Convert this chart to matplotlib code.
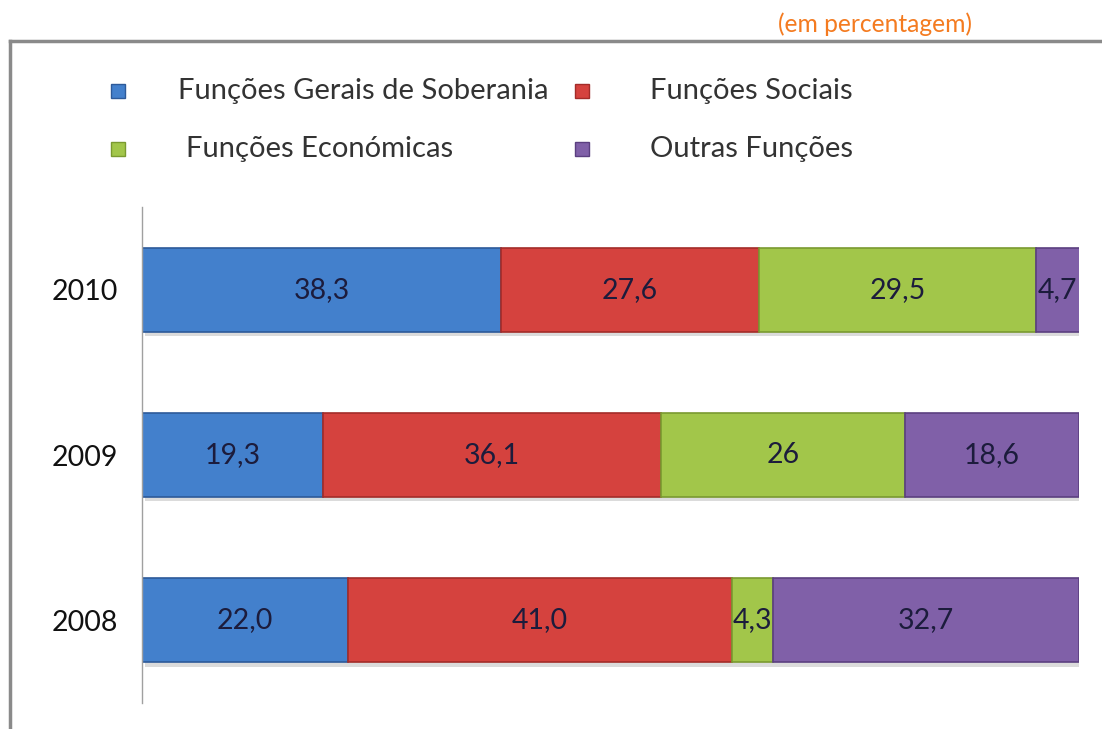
import matplotlib
matplotlib.use("Agg")
import matplotlib.pyplot as plt
import matplotlib.patheffects as pe
from matplotlib.lines import Line2D
from matplotlib.patches import Rectangle

years = ["2008", "2009", "2010"]
series_names = ["Funções Gerais de Soberania", "Funções Sociais",
                "Funções Económicas", "Outras Funções"]
gerais = [22.0, 19.3, 38.3]
sociais = [41.0, 36.1, 27.6]
economicas = [4.3, 26.0, 29.5]
outras = [32.7, 18.6, 4.7]
labels = {
    "gerais": ["22,0", "19,3", "38,3"],
    "sociais": ["41,0", "36,1", "27,6"],
    "economicas": ["4,3", "26", "29,5"],
    "outras": ["32,7", "18,6", "4,7"],
}
unit_note = "(em percentagem)"

colors = ["#4380cc", "#d5423e", "#a2c64a", "#8060a8"]
edges = ["#2d5a99", "#a32c29", "#7a9a30", "#5b3f80"]

plt.rcParams['font.family'] = ['Lato', 'DejaVu Sans']

fig = plt.figure(figsize=(11.02, 7.29), dpi=100)
W, H = 1102, 729

def fx(x):
    return x / W

def fy(y):
    return 1 - y / H

# outer border
fig.add_artist(Line2D([fx(10), fx(1102)], [fy(41), fy(41)], color="#8a8a8a", lw=2.5))
fig.add_artist(Line2D([fx(10), fx(10)], [fy(41), fy(729)], color="#8a8a8a", lw=2.5))

fig.text(fx(875), fy(24), unit_note, color="#f47b20", fontsize=17.7, ha="center", va="center")

ax = fig.add_axes([fx(142), fy(703), fx(1079) - fx(142), fy(207) - fy(703)])
ypos = list(range(len(years)))
data = [gerais, sociais, economicas, outras]
keys = ["gerais", "sociais", "economicas", "outras"]
left = [0.0] * len(years)
shadow = [pe.SimplePatchShadow(offset=(2, -3), shadow_rgbFace="#999999", alpha=0.35), pe.Normal()]
for vals, key, c, ec in zip(data, keys, colors, edges):
    bars = ax.barh(ypos, vals, left=left, height=0.51, color=c, edgecolor=ec, linewidth=1.2)
    for b in bars:
        b.set_path_effects(shadow)
    for i, (v, l) in enumerate(zip(vals, left)):
        ax.text(l + v / 2, i, labels[key][i], ha="center", va="center",
                fontsize=20.5, color="#1c1c3c")
    left = [a + b for a, b in zip(left, vals)]

ax.set_xlim(0, 100)
ax.set_ylim(-0.5, 2.5)
ax.set_yticks(ypos)
ax.set_yticklabels(years, fontsize=20.5, color="#111111")
ax.tick_params(axis="y", length=0, pad=17)
ax.set_xticks([])
for s in ["top", "right", "bottom"]:
    ax.spines[s].set_visible(False)
ax.spines["left"].set_color("#a0a0a0")
ax.spines["left"].set_linewidth(1)

# legend drawn manually
leg_items = [(118, 91, 178), (582, 91, 650), (118, 149, 186), (582, 149, 650)]
for (mx, my, tx), name, c, ec in zip(leg_items, series_names, colors, edges):
    fig.add_artist(Rectangle((fx(mx - 7), fy(my + 7)), fx(14), 14 / H,
                             facecolor=c, edgecolor=ec, lw=1))
    fig.text(fx(tx), fy(my), name, fontsize=21, color="#333333", ha="left", va="center")

fig.savefig("out.png", dpi=100)
